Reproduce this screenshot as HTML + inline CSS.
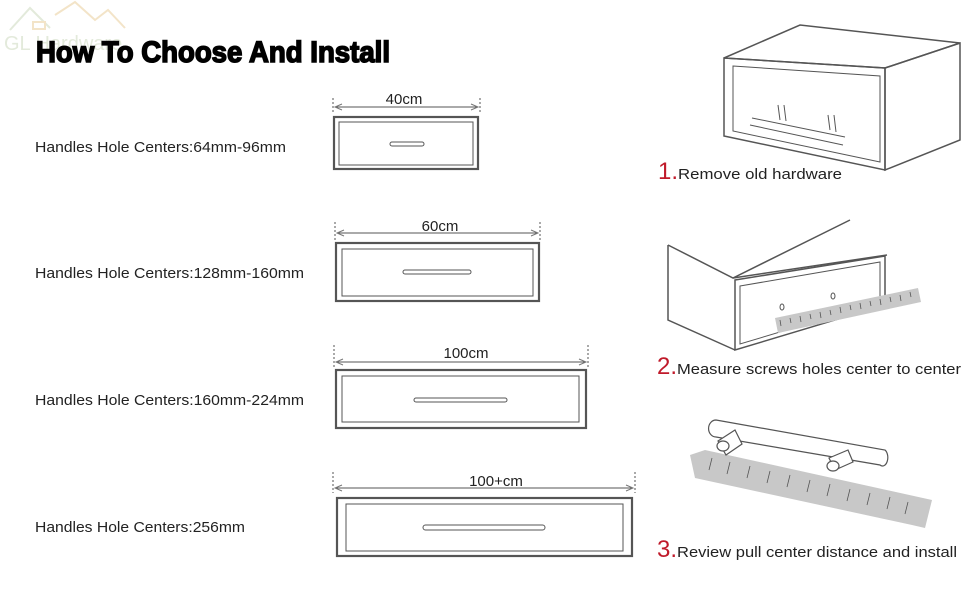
<!DOCTYPE html>
<html><head><style>
body{margin:0;background:#fff;}
svg{display:block;}
.t{font-family:"Liberation Sans",sans-serif;}
</style></head><body>
<svg width="970" height="600" viewBox="0 0 970 600" xmlns="http://www.w3.org/2000/svg">
<!-- logo -->
<g fill="none" stroke="#e3eadb" stroke-width="2">
<polyline points="10,30 30,8 50,28"/>
<polyline points="55,15 75,2 95,20 108,10 125,28" stroke="#f3e4c8"/>
<rect x="33" y="22" width="12" height="7" stroke="#f3e4c8"/>
</g>
<text x="4" y="50" class="t" font-size="20" fill="#e3eadb">GL Hardware</text>
<text x="36" y="62" class="t" font-size="30" font-weight="bold" fill="#000" stroke="#000" stroke-width="1.6" textLength="354" lengthAdjust="spacingAndGlyphs">How To Choose And Install</text>

<g class="t" font-size="15" fill="#222">
<text x="35" y="152" textLength="251" lengthAdjust="spacingAndGlyphs">Handles Hole Centers:64mm-96mm</text>
<text x="35" y="278" textLength="269" lengthAdjust="spacingAndGlyphs">Handles Hole Centers:128mm-160mm</text>
<text x="35" y="405" textLength="269" lengthAdjust="spacingAndGlyphs">Handles Hole Centers:160mm-224mm</text>
<text x="35" y="532" textLength="210" lengthAdjust="spacingAndGlyphs">Handles Hole Centers:256mm</text>
</g>

<g fill="none" stroke="#555">
<rect x="334" y="117" width="144" height="52" stroke-width="2.2"/>
<rect x="339" y="122" width="134" height="43" stroke-width="1"/>
<rect x="390" y="142" width="34" height="4" rx="2" stroke-width="1"/>
<line x1="333" y1="98" x2="333" y2="114" stroke-dasharray="2,2"/><line x1="480" y1="98" x2="480" y2="114" stroke-dasharray="2,2"/>
<line x1="335" y1="107" x2="478" y2="107"/>
<rect x="336" y="243" width="203" height="58" stroke-width="2.2"/>
<rect x="342" y="249" width="191" height="47" stroke-width="1"/>
<rect x="403" y="270" width="68" height="4" rx="2" stroke-width="1"/>
<line x1="335" y1="222" x2="335" y2="240" stroke-dasharray="2,2"/><line x1="540" y1="222" x2="540" y2="240" stroke-dasharray="2,2"/>
<line x1="337" y1="233" x2="538" y2="233"/>
<rect x="336" y="370" width="250" height="58" stroke-width="2.2"/>
<rect x="342" y="376" width="237" height="46" stroke-width="1"/>
<rect x="414" y="398" width="93" height="4" rx="2" stroke-width="1"/>
<line x1="334" y1="345" x2="334" y2="367" stroke-dasharray="2,2"/><line x1="588" y1="345" x2="588" y2="367" stroke-dasharray="2,2"/>
<line x1="336" y1="362" x2="586" y2="362"/>
<rect x="337" y="498" width="295" height="58" stroke-width="2.2"/>
<rect x="346" y="504" width="277" height="47" stroke-width="1"/>
<rect x="423" y="525" width="122" height="5" rx="2.5" stroke-width="1"/>
<line x1="333" y1="472" x2="333" y2="493" stroke-dasharray="2,2"/><line x1="635" y1="472" x2="635" y2="493" stroke-dasharray="2,2"/>
<line x1="335" y1="488" x2="633" y2="488"/>
</g>
<g fill="none" stroke="#777" stroke-width="1">
<polyline points="342,104 335,107 342,110"/><polyline points="471,104 478,107 471,110"/>
<polyline points="344,230 337,233 344,236"/><polyline points="531,230 538,233 531,236"/>
<polyline points="343,359 336,362 343,365"/><polyline points="579,359 586,362 579,365"/>
<polyline points="342,485 335,488 342,491"/><polyline points="626,485 633,488 626,491"/>
</g>
<g class="t" font-size="15" fill="#222" text-anchor="middle">
<text x="404" y="104">40cm</text>
<text x="440" y="231">60cm</text>
<text x="466" y="358">100cm</text>
<text x="496" y="486">100+cm</text>
</g>

<g fill="none" stroke="#555" stroke-width="1.5">
<polygon points="724,58 800,25 960,43 885,68"/>
<polygon points="724,58 885,68 885,170 724,136"/>
<polygon points="885,68 960,43 960,140 885,170"/>
<polygon points="733,66 880,76 880,162 733,131" stroke-width="1"/>
<path d="M752,118 L845,137 M750,125 L843,145" stroke-width="1"/>
<path d="M778,105 L780,120 M784,105 L786,121 M828,115 L830,130 M834,115 L836,132" stroke-width="1"/>
</g>
<g fill="none" stroke="#555" stroke-width="1.5">
<polyline points="668,245 733,278 850,220"/>
<polyline points="733,278 887,255"/>
<polyline points="668,245 668,320 735,350"/>
<polygon points="735,280 885,256 885,305 735,350"/>
<polygon points="740,286 880,262 880,302 740,344" stroke-width="1"/>
<ellipse cx="782" cy="307" rx="2" ry="3" stroke-width="1"/><ellipse cx="833" cy="296" rx="2" ry="3" stroke-width="1"/>
</g>
<polygon points="775,318 918,288 921,302 778,333" fill="#c8c8c8"/>
<g stroke="#555" stroke-width="0.8"><path d="M780,320 l1,6 M790,318 l1,5 M800,316 l1,6 M810,314 l1,5 M820,312 l1,6 M830,310 l1,5 M840,307 l1,6 M850,305 l1,5 M860,303 l1,6 M870,301 l1,5 M880,299 l1,6 M890,297 l1,5 M900,295 l1,6 M910,292 l1,5"/></g>
<polygon points="690,455 705,450 932,500 925,528 912,525 695,478" fill="#c8c8c8"/>
<g stroke="#555" stroke-width="0.8"><path d="M712,458 l-3,12 M730,462 l-3,12 M750,466 l-3,12 M770,471 l-3,12 M790,475 l-3,12 M810,480 l-3,12 M830,484 l-3,12 M850,489 l-3,12 M870,493 l-3,12 M890,497 l-3,12 M908,502 l-3,12"/></g>
<g fill="#fff" stroke="#555" stroke-width="1.2">
<path d="M716,420 L885,450 A5,8 0 0 1 880,465 L716,437 A7,8 0 0 1 716,420Z"/>
<path d="M718,441 L735,430 L742,444 L726,455Z"/>
<ellipse cx="723" cy="446" rx="6" ry="5"/>
<path d="M829,458 L848,450 L853,462 L835,470Z"/>
<ellipse cx="833" cy="466" rx="6" ry="5"/>
</g>

<g class="t" font-size="15" fill="#222">
<text x="658" y="179"><tspan font-size="24" fill="#c01a2a">1.</tspan><tspan textLength="164" lengthAdjust="spacingAndGlyphs">Remove old hardware</tspan></text>
<text x="657" y="374"><tspan font-size="24" fill="#c01a2a">2.</tspan><tspan textLength="284" lengthAdjust="spacingAndGlyphs">Measure screws holes center to center</tspan></text>
<text x="657" y="557"><tspan font-size="24" fill="#c01a2a">3.</tspan><tspan textLength="280" lengthAdjust="spacingAndGlyphs">Review pull center distance and install</tspan></text>
</g>
</svg>
</body></html>
